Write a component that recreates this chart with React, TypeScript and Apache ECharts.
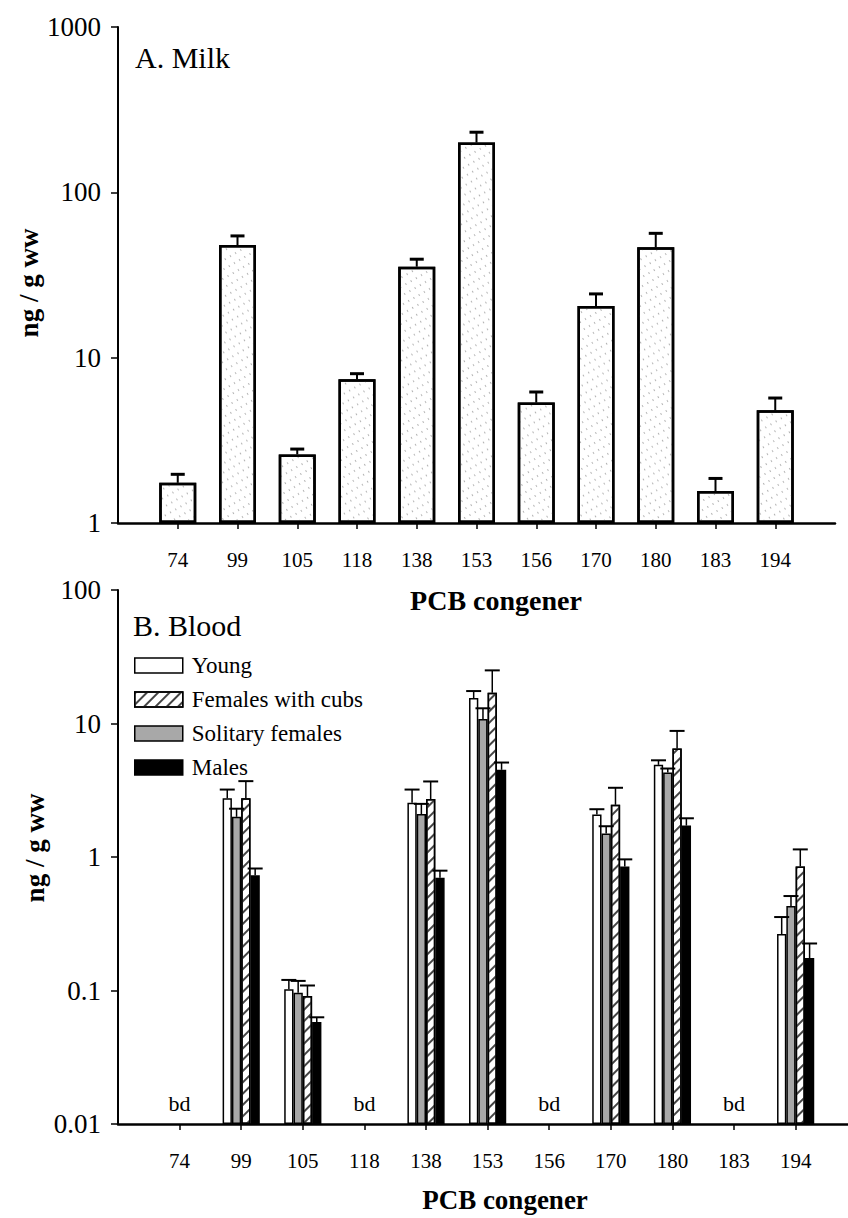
import React, { useEffect, useRef } from 'react';
import * as echarts from 'echarts';

// ---------- data ----------
const categories = ['74', '99', '105', '118', '138', '153', '156', '170', '180', '183', '194'];

// A. Milk (ng/g ww) – bar tops and upper error-bar ends
const milkValues = [1.75, 48, 2.6, 7.4, 35.5, 200, 5.35, 20.5, 46.5, 1.56, 4.8];
const milkErrorTops = [1.97, 54.5, 2.8, 8.0, 39.4, 231, 6.2, 24.3, 56.5, 1.86, 5.7];

// B. Blood (ng/g ww) – null = below detection (bd)
const youngValues = [null, 2.75, 0.102, null, 2.55, 15.5, null, 2.08, 4.9, null, 0.265];
const youngErrorTops = [null, 3.2, 0.12, null, 3.2, 17.5, null, 2.28, 5.3, null, 0.355];
const solitaryValues = [null, 2.0, 0.096, null, 2.1, 10.8, null, 1.5, 4.3, null, 0.43];
const solitaryErrorTops = [null, 2.3, 0.118, null, 2.5, 13, null, 1.7, 4.6, null, 0.51];
const cubsValues = [null, 2.75, 0.091, null, 2.72, 17, null, 2.46, 6.5, null, 0.85];
const cubsErrorTops = [null, 3.7, 0.109, null, 3.68, 25, null, 3.3, 8.8, null, 1.14];
const malesValues = [null, 0.73, 0.058, null, 0.7, 4.5, null, 0.85, 1.72, null, 0.175];
const malesErrorTops = [null, 0.82, 0.063, null, 0.79, 5.1, null, 0.96, 1.95, null, 0.225];

const legendOrder = ['Young', 'Females with cubs', 'Solitary females', 'Males'];

// ---------- helpers ----------
const FONT = 'Liberation Serif';
const positions = categories.map((_, i) => i);
const fmtLog = (v: number) => String(Number(v.toPrecision(3)));
const fmtCat = (v: number) => categories[Math.round(v)] ?? '';

const BLOOD_BAR_W = 9.3;

function errorSeries(xAxisIndex: number, values: (number | null)[], tops: (number | null)[], offset: number, halfCap: number, lw: number, capW: number) {
  const data = values
    .map((v, i) => (v == null || tops[i] == null ? null : [i, v, tops[i]]))
    .filter((d) => d !== null);
  return {
    type: 'custom',
    xAxisIndex,
    yAxisIndex: xAxisIndex,
    z: 5,
    silent: true,
    data,
    renderItem: (_params: any, api: any) => {
      const x = api.value(0);
      const p0 = api.coord([x, api.value(1)]);
      const p1 = api.coord([x, api.value(2)]);
      const cx = p0[0] + offset;
      return {
        type: 'group',
        children: [
          { type: 'line', shape: { x1: cx, y1: p0[1], x2: cx, y2: p1[1] }, style: { stroke: '#000', lineWidth: lw } },
          { type: 'line', shape: { x1: cx - halfCap, y1: p1[1], x2: cx + halfCap, y2: p1[1] }, style: { stroke: '#000', lineWidth: capW } },
        ],
      };
    },
  };
}

const bloodGroups = [
  { name: 'Young', values: youngValues, tops: youngErrorTops, itemStyle: { color: '#ffffff', borderColor: '#000', borderWidth: 1.5 } },
  { name: 'Solitary females', values: solitaryValues, tops: solitaryErrorTops, itemStyle: { color: '#a8a8a8', borderColor: '#000', borderWidth: 1.5 } },
  {
    name: 'Females with cubs', values: cubsValues, tops: cubsErrorTops,
    itemStyle: {
      color: '#ffffff', borderColor: '#000', borderWidth: 1.5,
      decal: { symbol: 'rect', symbolSize: 1, color: '#444', dashArrayX: [1, 0], dashArrayY: [1.5, 6], rotation: -Math.PI / 4 },
    },
  },
  { name: 'Males', values: malesValues, tops: malesErrorTops, itemStyle: { color: '#000000', borderColor: '#000', borderWidth: 1.5 } },
];

function buildOption() {
  const axisLabelBase = { fontFamily: FONT, color: '#000' };
  const xAxisCommon = (gridIndex: number, max: number) => ({
    gridIndex,
    type: 'value',
    min: -1,
    max,
    interval: 1,
    splitLine: { show: false },
    axisLine: { show: true, onZero: false, lineStyle: { color: '#000', width: 2.5 } },
    axisTick: { show: true, customValues: positions, length: 6, lineStyle: { color: '#000', width: 1.5 } },
    axisLabel: { ...axisLabelBase, customValues: positions, formatter: fmtCat, fontSize: 21, margin: 26 },
  });
  const yAxisCommon = (gridIndex: number, min: number, max: number) => ({
    gridIndex,
    type: 'log',
    logBase: 10,
    min,
    max,
    startValue: min,
    splitLine: { show: false },
    minorTick: { show: false },
    axisLine: { show: true, onZero: false, lineStyle: { color: '#000', width: 2 } },
    axisTick: { show: true, length: 7, lineStyle: { color: '#000', width: 1.5 } },
    axisLabel: { ...axisLabelBase, formatter: fmtLog, fontSize: 27, margin: 17 },
  });

  const series: any[] = [];
  series.push({
    type: 'bar',
    name: 'Milk',
    xAxisIndex: 0,
    yAxisIndex: 0,
    barWidth: 37,
    data: milkValues.map((v, i) => [i, v]),
    itemStyle: {
      color: '#ffffff',
      borderColor: '#000',
      borderWidth: 2.5,
      decal: { symbol: 'rect', symbolSize: 1, color: 'rgba(120,120,120,0.55)', dashArrayX: [2, 6], dashArrayY: [1, 5], rotation: Math.PI / 3 },
    },
  });
  series.push(errorSeries(0, milkValues, milkErrorTops, 0, 7, 2, 3));

  bloodGroups.forEach((g) => {
    series.push({
      type: 'bar',
      name: g.name,
      xAxisIndex: 1,
      yAxisIndex: 1,
      barWidth: BLOOD_BAR_W,
      barGap: '0%',
      data: g.values.map((v, i) => (v == null ? null : [i, v])).filter((d) => d !== null),
      itemStyle: g.itemStyle,
    });
  });
  bloodGroups.forEach((g, k) => {
    series.push(errorSeries(1, g.values, g.tops, (k - 1.5) * BLOOD_BAR_W, 7.5, 1.5, 2));
  });

  const bdData = youngValues.map((v, i) => (v == null ? [i, 0.01] : null)).filter((d) => d !== null);
  series.push({
    type: 'custom',
    xAxisIndex: 1,
    yAxisIndex: 1,
    silent: true,
    data: bdData,
    renderItem: (_p: any, api: any) => {
      const p = api.coord([api.value(0), api.value(1)]);
      return {
        type: 'text',
        x: p[0],
        y: p[1] - 21,
        style: { text: 'bd', fontSize: 22, fontFamily: FONT, fill: '#000', align: 'center', verticalAlign: 'middle', textAlign: 'center', textVerticalAlign: 'middle' },
      };
    },
  });

  const txt = (text: string, x: number, y: number, size: number, bold: boolean, align: string, rotation = 0) => ({
    type: 'text',
    x,
    y,
    rotation,
    style: {
      text,
      fontSize: size,
      fontFamily: FONT,
      fontWeight: bold ? 'bold' : 'normal',
      fill: '#000',
      align,
      verticalAlign: 'middle',
      textAlign: align,
      textVerticalAlign: 'middle',
    },
  });

  return {
    animation: false,
    backgroundColor: '#ffffff',
    textStyle: { fontFamily: FONT },
    grid: [
      { left: 118, top: 27, width: 717, height: 496, containLabel: false },
      { left: 118, top: 590, width: 730, height: 534, containLabel: false },
    ],
    xAxis: [xAxisCommon(0, 11), xAxisCommon(1, 10.85)],
    yAxis: [yAxisCommon(0, 1, 1000), yAxisCommon(1, 0.01, 100)],
    legend: {
      data: legendOrder,
      orient: 'vertical',
      left: 134,
      top: 654,
      padding: 0,
      itemWidth: 48,
      itemHeight: 15,
      itemGap: 11,
      icon: 'rect',
      selectedMode: false,
      itemStyle: { borderColor: '#000', borderWidth: 1.5 },
      textStyle: { fontSize: 23, fontFamily: FONT, color: '#000', lineHeight: 15, padding: [0, 0, 0, 4] },
    },
    graphic: [
      txt('A. Milk', 135, 57, 30, false, 'left'),
      txt('B. Blood', 133, 625, 30, false, 'left'),
      txt('ng / g ww', 29, 283, 27, true, 'center', Math.PI / 2),
      txt('ng / g ww', 35, 848, 27, true, 'center', Math.PI / 2),
      txt('PCB congener', 496, 600, 28, true, 'center'),
      txt('PCB congener', 505, 1200, 27, true, 'center'),
    ],
    series,
  };
}

export default function App() {
  const ref = useRef<HTMLDivElement>(null);
  useEffect(() => {
    if (!ref.current) return;
    const chart = echarts.init(ref.current, null, { renderer: 'svg' });
    chart.setOption(buildOption() as any);
    return () => chart.dispose();
  }, []);
  return (
    <div
      ref={ref}
      style={{ position: 'absolute', left: 0, top: 0, width: 848, height: 1218, background: '#fff' }}
    />
  );
}
